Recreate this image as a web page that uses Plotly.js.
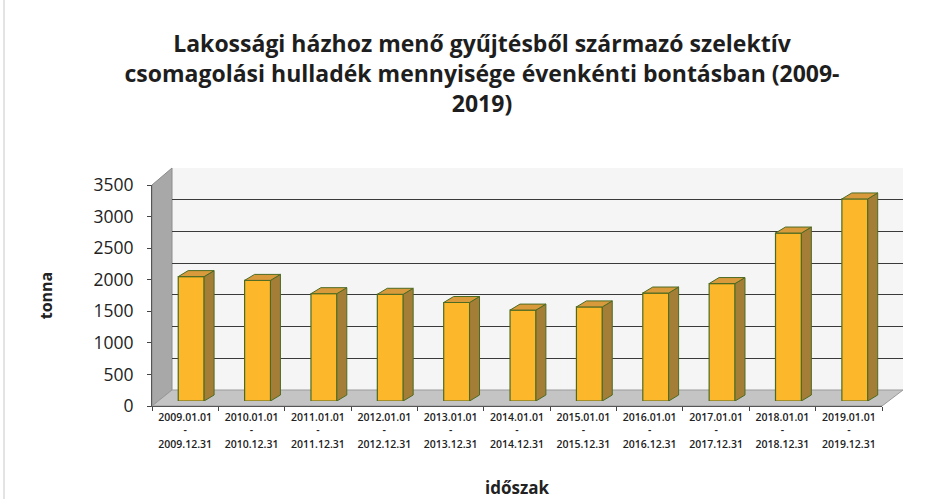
<!DOCTYPE html>
<html>
<head>
<meta charset="utf-8">
<script src="https://cdn.plot.ly/plotly-3.0.1.min.js"></script>
<style>html,body{margin:0;padding:0;background:#fff;}#chart{width:940px;height:499px;}</style>
</head>
<body>
<div id="chart"></div>
<script>
// ---- data ----
const periodStart = ['2009.01.01','2010.01.01','2011.01.01','2012.01.01','2013.01.01','2014.01.01','2015.01.01','2016.01.01','2017.01.01','2018.01.01','2019.01.01'];
const periodEnd   = ['2009.12.31','2010.12.31','2011.12.31','2012.12.31','2013.12.31','2014.12.31','2015.12.31','2016.12.31','2017.12.31','2018.12.31','2019.12.31'];
const tonnes      = [1970, 1910, 1700, 1690, 1560, 1440, 1490, 1710, 1860, 2660, 3200];
const yTickVals   = [0, 500, 1000, 1500, 2000, 2500, 3000, 3500];

const titleText = 'Lakossági házhoz menő gyűjtésből származó szelektív<br>csomagolási hulladék mennyisége évenkénti bontásban (2009-<br>2019)';
const xTitle = 'időszak';
const yTitle = 'tonna';

// ---- layout helpers (pixels -> paper) ----
const W = 940, H = 499;
const fx = p => p / W;
const fy = p => 1 - p / H;

const idx = periodStart.map((_, i) => i);
const tickText = periodStart.map((s, i) => s + '<br>-<br>' + periodEnd[i]);
const boundaries = [];
for (let i = 0; i <= periodStart.length; i++) boundaries.push(i - 0.5);
const xRange = [-0.5, periodStart.length - 0.5];
const yRange = [0, 3500];

// front plane
const F = {x0: 152, x1: 882, y0: 185, y1: 406};
// back wall
const B = {x0: 172, x1: 903, y0: 168, y1: 390};
// bar plane
const M = {x0: 158, x1: 888, y0: 180, y1: 401};

const barColor = '#FDB72A';
const edgeColor = '#4C6B22';
const sideColor = '#A47D37';
const topColor = '#D99A3C';

const traces = [
  {type: 'scatter', x: [], y: [], xaxis: 'x', yaxis: 'y', showlegend: false, hoverinfo: 'skip'},
  {type: 'scatter', x: [], y: [], xaxis: 'x2', yaxis: 'y2', showlegend: false, hoverinfo: 'skip'},
  {type: 'bar', x: idx, y: tonnes, xaxis: 'x3', yaxis: 'y3', width: 0.39,
   marker: {color: barColor, line: {color: edgeColor, width: 1.2}},
   showlegend: false, hoverinfo: 'skip'}
];

// 3D faces of bars, computed from data via bar axes
const dxu = 0.15;   // depth in category units
const dyu = 95;     // depth in value units
const hw = 0.195;
const shapes = [];

// walls and floor (decorative)
shapes.push({type: 'path', xref: 'paper', yref: 'paper', layer: 'below',
  path: `M${fx(B.x0)},${fy(B.y1)} L${fx(B.x0)},${fy(B.y0)} L${fx(B.x1)},${fy(B.y0)} L${fx(B.x1)},${fy(B.y1)} Z`,
  fillcolor: '#F5F5F5', line: {width: 0}});
shapes.push({type: 'path', xref: 'paper', yref: 'paper', layer: 'below',
  path: `M${fx(F.x0)},${fy(F.y1)} L${fx(F.x0)},${fy(F.y0)} L${fx(B.x0)},${fy(B.y0)} L${fx(B.x0)},${fy(B.y1)} Z`,
  fillcolor: '#A8A8A8', line: {color: '#8C8C8C', width: 1}});
shapes.push({type: 'path', xref: 'paper', yref: 'paper', layer: 'below',
  path: `M${fx(F.x0)},${fy(F.y1)} L${fx(F.x1)},${fy(F.y1)} L${fx(B.x1)},${fy(B.y1)} L${fx(B.x0)},${fy(B.y1)} Z`,
  fillcolor: '#C4C4C4', line: {color: '#9A9A9A', width: 1}});
// page border line at left
shapes.push({type: 'line', xref: 'paper', yref: 'paper', layer: 'below',
  x0: fx(4), x1: fx(4), y0: 0, y1: 1, line: {color: '#C8C8C8', width: 1}});

tonnes.forEach((v, i) => {
  const r = i + hw, l = i - hw;
  shapes.push({type: 'path', xref: 'x3', yref: 'y3', layer: 'above',
    path: `M${r},0 L${r + dxu},${dyu} L${r + dxu},${v + dyu} L${r},${v} Z`,
    fillcolor: sideColor, line: {color: edgeColor, width: 1}});
  shapes.push({type: 'path', xref: 'x3', yref: 'y3', layer: 'above',
    path: `M${l},${v} L${l + dxu},${v + dyu} L${r + dxu},${v + dyu} L${r},${v} Z`,
    fillcolor: topColor, line: {color: edgeColor, width: 1}});
});

const layout = {
  width: W, height: H, autosize: false,
  margin: {l: 0, r: 0, t: 0, b: 0},
  paper_bgcolor: '#ffffff', plot_bgcolor: 'rgba(0,0,0,0)',
  showlegend: false,
  title: {text: titleText, x: fx(482), xanchor: 'center', xref: 'paper',
          y: fy(52), yanchor: 'top', yref: 'container',
          font: {family: '"Open Sans", sans-serif', size: 23, weight: 700, color: '#1e1e1e'}},
  xaxis: {domain: [fx(F.x0), fx(F.x1)], anchor: 'y', range: xRange, fixedrange: true,
          tickmode: 'array', tickvals: idx, ticktext: tickText, ticks: '',
          minor: {tickmode: 'array', tickvals: boundaries, ticks: 'outside', ticklen: 4, tickcolor: '#444', showgrid: false},
          showline: true, linecolor: '#555', linewidth: 1, showgrid: false, zeroline: false,
          tickfont: {family: '"Open Sans", sans-serif', size: 10.5, weight: 600, color: '#222'},
          ticklabelstandoff: 1,
          title: {text: xTitle, standoff: 36, font: {family: '"Open Sans", sans-serif', size: 17, weight: 700, color: '#222'}}},
  yaxis: {domain: [fy(F.y1), fy(F.y0)], anchor: 'x', range: yRange, fixedrange: true,
          tickmode: 'array', tickvals: yTickVals, ticks: 'outside', ticklen: 4, tickcolor: '#444',
          showline: true, linecolor: '#555', linewidth: 1, showgrid: false, zeroline: false,
          tickfont: {family: '"Open Sans", sans-serif', size: 17.5, color: '#222'},
          ticklabelstandoff: 10,
          title: {text: yTitle, standoff: 36, font: {family: '"Open Sans", sans-serif', size: 16, weight: 700, color: '#222'}}},
  xaxis2: {domain: [fx(B.x0), fx(B.x1)], anchor: 'y2', range: xRange, fixedrange: true,
           showticklabels: false, ticks: '', showgrid: false, zeroline: false, showline: false},
  yaxis2: {domain: [fy(B.y1), fy(B.y0)], anchor: 'x2', range: yRange, fixedrange: true,
           tickmode: 'array', tickvals: yTickVals, showticklabels: false, ticks: '',
           showgrid: true, gridcolor: '#3a3a3a', gridwidth: 1.2, zeroline: false, showline: false},
  xaxis3: {domain: [fx(M.x0), fx(M.x1)], anchor: 'y3', range: xRange, fixedrange: true,
           showticklabels: false, ticks: '', showgrid: false, zeroline: false, showline: false},
  yaxis3: {domain: [fy(M.y1), fy(M.y0)], anchor: 'x3', range: yRange, fixedrange: true,
           showticklabels: false, ticks: '', showgrid: false, zeroline: false, showline: false},
  shapes: shapes
};

Plotly.newPlot('chart', traces, layout, {staticPlot: true, displayModeBar: false});
</script>
</body>
</html>
